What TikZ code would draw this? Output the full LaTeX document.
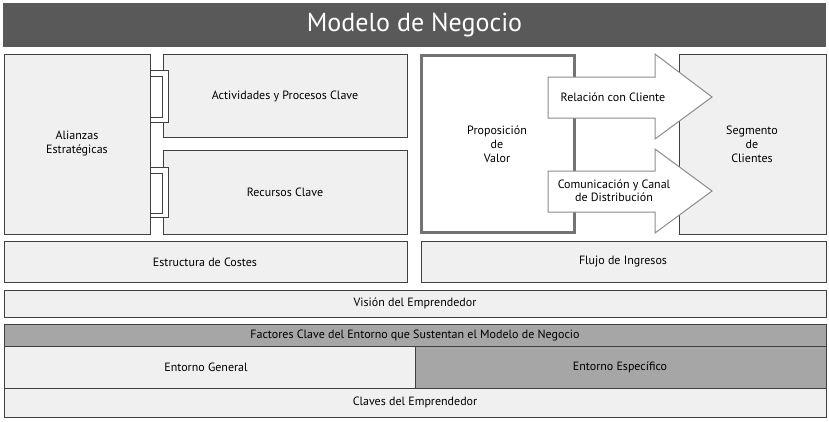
\documentclass[tikz,border=0pt]{standalone}
\usepackage{fontspec}
\setmainfont{PT Sans}
\begin{document}
\begin{tikzpicture}[x=1pt,y=-1pt,
  box/.style={draw=black!75,line width=1pt,fill=black!6},
  lbl/.style={font=\fontsize{12}{14}\selectfont,align=center,text=black},
  arr/.style={draw=black!45,line width=1pt,fill=white}]
\useasboundingbox (0,0) rectangle (829,421);
\fill[black!65] (3,3) rectangle (826,47);
\node[text=white,font=\fontsize{26}{28}\selectfont] (title) at (414.5,25) {Modelo de Negocio};
% left blocks
\draw[box] (4,54) rectangle (150,234);
\node[lbl] (ali) at (77,144) {Alianzas\\Estratégicas};
\draw[box] (163,54) rectangle (407,137);
\node[lbl] (act) at (285,96) {Actividades y Procesos Clave};
\draw[box] (163,150) rectangle (407,234);
\node[lbl] (rec) at (285,192) {Recursos Clave};
% brackets
\foreach \a/\b/\c/\d in {70/122/76/117, 167/217/173/213}{
  \draw[black!75,line width=1pt,fill=white] (150,\a) rectangle (168,\b);
  \draw[black!75,line width=1pt] (150,\c) rectangle (162,\d);
}
% value proposition
\draw[box] (679,54) rectangle (826,234);
\node[lbl] (seg) at (752,144) {Segmento\\de\\Clientes};
\draw[draw=black!55,line width=3.5pt,fill=white] (421.5,55.5) rectangle (574.5,232.5);
\node[lbl] (pro) at (497,144) {Proposición\\de\\Valor};
\draw[arr] (548,77) -- (655,77) -- (655,54) -- (712,97) -- (655,139) -- (655,118) -- (548,118) -- cycle;
\node[lbl] (rel) at (613,97) {Relación con Cliente};
\draw[arr] (548,171) -- (655,171) -- (655,149) -- (712,191) -- (655,233) -- (655,212) -- (548,212) -- cycle;
\node[lbl,font=\fontsize{12}{13}\selectfont] (com) at (614,191) {Comunicación y Canal\\de Distribución};
% bottom rows
\draw[box] (4,241) rectangle (407,282);
\node[lbl] (est) at (205,262) {Estructura de Costes};
\draw[box] (421,241) rectangle (826,282);
\node[lbl] (flu) at (623,262) {Flujo de Ingresos};
\draw[box] (4,290) rectangle (826,317);
\node[lbl] (vis) at (415,303.5) {Visión del Emprendedor};
\draw[box,fill=black!35] (4,324) rectangle (826,346);
\node[lbl] (fac) at (415,335) {Factores Clave del Entorno que Sustentan el Modelo de Negocio};
\draw[box] (4,346) rectangle (415,388);
\node[lbl] (eg) at (206,367) {Entorno General};
\draw[box,fill=black!35] (415,346) rectangle (826,388);
\node[lbl] (ee) at (620,367) {Entorno Específico};
\draw[box] (4,388) rectangle (826,417);
\node[lbl] (cla) at (415,402.5) {Claves del Emprendedor};
\end{tikzpicture}
\end{document}
